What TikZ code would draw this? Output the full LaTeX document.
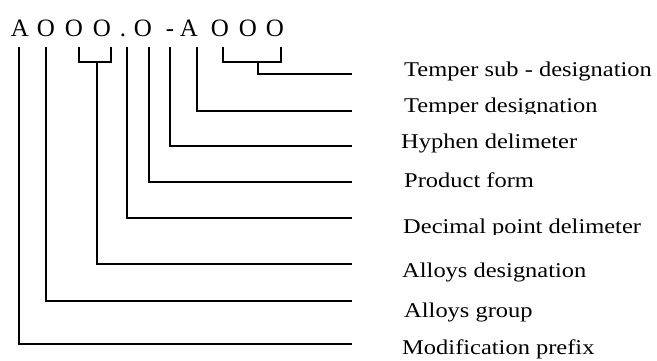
\documentclass[tikz,border=0pt]{standalone}
\usepackage{fontspec}
\setmainfont{Liberation Serif}
\begin{document}
\begin{tikzpicture}[x=1pt,y=-1pt,
  conn/.style={draw=black,line width=1.2pt},
  hdr/.style={anchor=base,inner sep=0pt,font=\fontsize{25}{25}\selectfont},
  lbl/.style={anchor=base west,inner sep=0pt,font=\fontsize{21}{21}\selectfont,xscale=1.165}]
\useasboundingbox (0,0) rectangle (657,360);
% header characters
\node[hdr] (c1) at (20,36) {A};
\node[hdr] (c2) at (46,36) {O};
\node[hdr] (c3) at (74,36) {O};
\node[hdr] (c4) at (102,36) {O};
\node[hdr] (c5) at (123,36) {.};
\node[hdr] (c6) at (143,36) {O};
\node[hdr] (c7) at (170,36) {-};
\node[hdr] (c8) at (189,36) {A};
\node[hdr] (c9) at (220,36) {O};
\node[hdr] (c10) at (248,36) {O};
\node[hdr] (c11) at (275,36) {O};
% labels
\node[lbl] (l1) at (404,76) {Temper sub - designation};
\begin{scope}
  \clip (395,85) rectangle (657,113);
  \node[lbl] (l2) at (404,112) {Temper designation};
\end{scope}
\node[lbl] (l3) at (401,148) {Hyphen delimeter};
\node[lbl] (l4) at (404,187) {Product form};
\begin{scope}
  \clip (395,205) rectangle (657,234);
  \node[lbl] (l5) at (403,233) {Decimal point delimeter};
\end{scope}
\node[lbl] (l6) at (402,277) {Alloys designation};
\node[lbl] (l7) at (404,317) {Alloys group};
\node[lbl] (l8) at (402,354) {Modification prefix};
% coordinates
\coordinate (t1) at (19,47);  \coordinate (e1) at (352,344);
\coordinate (t2) at (46,47);  \coordinate (e2) at (352,301);
\coordinate (b3l) at (79,47); \coordinate (b3r) at (111,47);
\coordinate (s3) at (97,62);  \coordinate (e3) at (352,264);
\coordinate (t4) at (127,47); \coordinate (e4) at (352,218);
\coordinate (t5) at (149,47); \coordinate (e5) at (352,182);
\coordinate (t6) at (170,47); \coordinate (e6) at (352,146);
\coordinate (t7) at (197,47); \coordinate (e7) at (352,111);
\coordinate (b8l) at (223,47); \coordinate (b8r) at (281,47);
\coordinate (s8) at (258,62); \coordinate (e8) at (352,74);
% connectors
\draw[conn] (t1) |- (e1);
\draw[conn] (t2) |- (e2);
\draw[conn] (b3l) |- (s3) -| (b3r);
\draw[conn] (s3) |- (e3);
\draw[conn] (t4) |- (e4);
\draw[conn] (t5) |- (e5);
\draw[conn] (t6) |- (e6);
\draw[conn] (t7) |- (e7);
\draw[conn] (b8l) |- (s8) -| (b8r);
\draw[conn] (s8) |- (e8);
\end{tikzpicture}
\end{document}
